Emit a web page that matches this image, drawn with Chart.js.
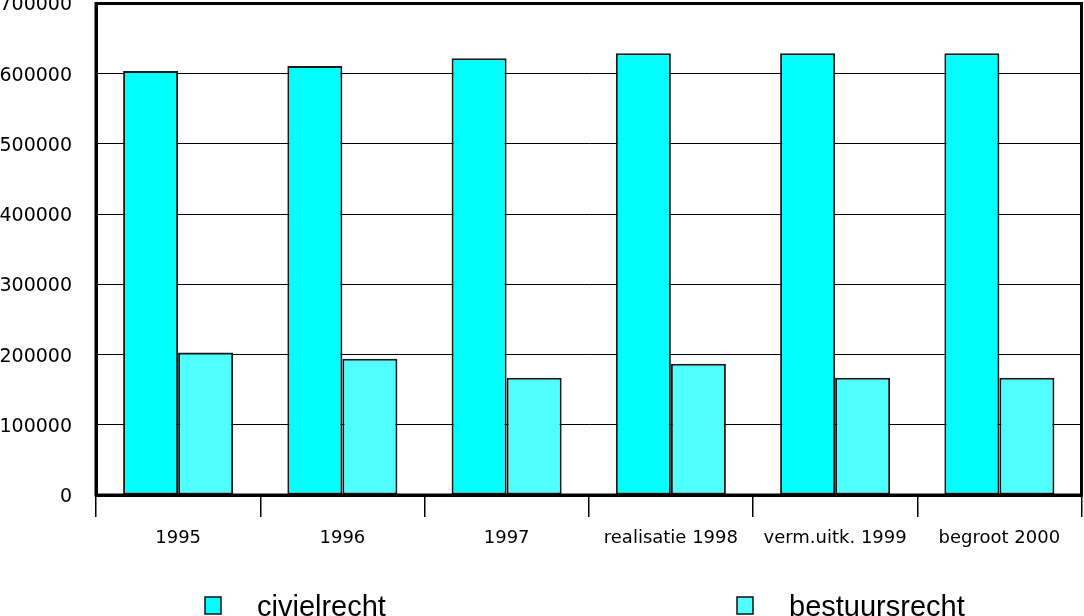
<!DOCTYPE html>
<html>
<head>
<meta charset="utf-8">
<script src="https://cdn.jsdelivr.net/npm/chart.js@4/dist/chart.umd.min.js"></script>
<style>
  html, body { margin: 0; padding: 0; background: #fff; }
  #wrap { width: 1084px; height: 616px; position: relative; }
</style>
</head>
<body>
<div id="wrap"><canvas id="c" width="1084" height="616"></canvas></div>
<script>
const categories = ['1995', '1996', '1997', 'realisatie 1998', 'verm.uitk. 1999', 'begroot 2000'];
const civielrecht = [604000, 611000, 622000, 629000, 629000, 629000];
const bestuursrecht = [203000, 194000, 167000, 187000, 167000, 167000];
const seriesNames = ['civielrecht', 'bestuursrecht'];
const seriesColors = ['#00FFFF', '#50FFFF'];
const yMax = 700000;
const yStep = 100000;

const frame = {
  id: 'frame',
  afterDatasetsDraw(chart) {
    const a = chart.chartArea, ctx = chart.ctx;
    ctx.save();
    ctx.strokeStyle = '#000';
    ctx.lineWidth = 3;
    ctx.strokeRect(a.left, a.top, a.right - a.left, a.bottom - a.top);
    ctx.restore();
  }
};

const bottomLegend = {
  id: 'bottomLegend',
  afterDraw(chart) {
    const ctx = chart.ctx;
    const xs = [205, 737];
    ctx.save();
    chart.data.datasets.forEach((ds, i) => {
      const x = xs[i];
      ctx.fillStyle = ds.backgroundColor;
      ctx.fillRect(x, 597, 16, 17);
      ctx.strokeStyle = '#111';
      ctx.lineWidth = 1.5;
      ctx.strokeRect(x, 597, 16, 17);
      ctx.fillStyle = '#000';
      ctx.font = '29px "Liberation Sans", Arial, sans-serif';
      ctx.textBaseline = 'alphabetic';
      ctx.textAlign = 'left';
      ctx.fillText(ds.label, x + 52, 616);
    });
    ctx.restore();
  }
};

new Chart(document.getElementById('c'), {
  type: 'bar',
  data: {
    labels: categories,
    datasets: [
      { label: seriesNames[0], data: civielrecht, backgroundColor: seriesColors[0], borderColor: '#1a1a1a', borderWidth: 2, borderSkipped: false },
      { label: seriesNames[1], data: bestuursrecht, backgroundColor: seriesColors[1], borderColor: '#1a1a1a', borderWidth: 2, borderSkipped: false }
    ]
  },
  options: {
    responsive: false,
    animation: false,
    devicePixelRatio: 1,
    layout: { padding: { left: 0, top: 3.5, right: 2.5, bottom: 0 } },
    datasets: { bar: { categoryPercentage: 0.67, barPercentage: 1.0 } },
    plugins: { legend: { display: false }, tooltip: { enabled: false } },
    scales: {
      x: {
        afterFit(s) { s.height = 121; s.paddingLeft = 0; s.paddingRight = 0; },
        grid: { display: true, offset: true, drawOnChartArea: false, drawTicks: true, tickLength: 22, color: '#000', lineWidth: 1.5 },
        border: { display: true, color: '#000', width: 3 },
        ticks: { color: '#000', font: { family: '"DejaVu Sans", sans-serif', size: 18 }, padding: 11, maxRotation: 0, autoSkip: false }
      },
      y: {
        min: 0, max: yMax,
        afterFit(s) { s.width = 96; s.paddingTop = 0; s.paddingBottom = 0; },
        grid: { display: true, drawTicks: false, color: '#000', lineWidth: 1 },
        border: { display: true, color: '#000', width: 3 },
        ticks: { stepSize: yStep, color: '#000', font: { family: '"DejaVu Sans", sans-serif', size: 19 }, padding: 24, labelOffset: 2, callback: v => String(v) }
      }
    }
  },
  plugins: [frame, bottomLegend]
});
</script>
</body>
</html>
